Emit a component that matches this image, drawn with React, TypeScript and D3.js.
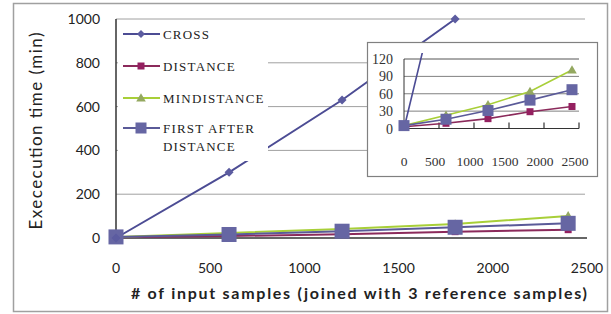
import { useRef, useEffect } from 'react';
import * as d3 from 'd3';

// data
const samples = [0, 600, 1200, 1800, 2400];
const cross = [0, 300, 630, 1000];
const distance = [3, 9, 17, 29, 38];
const minDistance = [5, 23, 41, 64, 101];
const firstAfter = [5, 16, 31, 49, 67];

const mainYTicks = [0, 200, 400, 600, 800, 1000];
const mainXTicks = [0, 500, 1000, 1500, 2000, 2500];
const insetYTicks = [0, 30, 60, 90, 120];
const insetXTicks = [0, 500, 1000, 1500, 2000, 2500];

const seriesNames = ['CROSS', 'DISTANCE', 'MINDISTANCE', 'FIRST AFTER DISTANCE'];

type Series = { name: string; values: number[]; line: string; fill: string; marker: string; size: number; mainSize: number };

const series: Series[] = [
  { name: seriesNames[1], values: distance, line: '#8b2a5b', fill: '#942060', marker: 'square', size: 7, mainSize: 7 },
  { name: seriesNames[2], values: minDistance, line: '#a8cf38', fill: '#94a860', marker: 'triangle', size: 8, mainSize: 8 },
  { name: seriesNames[3], values: firstAfter, line: '#5a5a98', fill: '#6666a3', marker: 'square', size: 11, mainSize: 15 },
  { name: seriesNames[0], values: cross, line: '#4c4c94', fill: '#5c5ca0', marker: 'diamond', size: 8, mainSize: 9 },
];

function drawMarker(g: any, kind: string, x: number, y: number, s: number, fill: string) {
  if (kind === 'square') {
    g.append('rect').attr('x', x - s / 2).attr('y', y - s / 2).attr('width', s).attr('height', s).attr('fill', fill);
  } else if (kind === 'triangle') {
    g.append('path').attr('d', `M${x},${y - s * 0.6}L${x + s * 0.6},${y + s * 0.45}L${x - s * 0.6},${y + s * 0.45}Z`).attr('fill', fill);
  } else {
    g.append('path').attr('d', `M${x},${y - s / 2}L${x + s / 2},${y}L${x},${y + s / 2}L${x - s / 2},${y}Z`).attr('fill', fill);
  }
}

export default function App() {
  const svgRef = useRef<SVGSVGElement>(null);

  useEffect(() => {
    document.body.style.margin = '0';
    const svg = d3.select(svgRef.current).html('');

    // outer frame
    svg.append('rect').attr('x', 13.5).attr('y', 3.5).attr('width', 594).attr('height', 308)
      .attr('fill', 'white').attr('stroke', '#a0a0a0').attr('stroke-width', 1.5);

    // main scales
    const x = d3.scaleLinear().domain([0, 2500]).range([116, 587]);
    const y = d3.scaleLinear().domain([0, 1000]).range([238, 19]);

    const grid = svg.append('g');
    mainYTicks.slice(1).forEach(t => {
      grid.append('line').attr('x1', 116).attr('x2', 585).attr('y1', y(t)).attr('y2', y(t))
        .attr('stroke', '#a0a0a0').attr('stroke-width', 1);
    });

    // axes
    svg.append('line').attr('x1', 116).attr('x2', 116).attr('y1', 19).attr('y2', 238).attr('stroke', '#333').attr('stroke-width', 1.5);
    svg.append('line').attr('x1', 116).attr('x2', 587).attr('y1', 238).attr('y2', 238).attr('stroke', '#333').attr('stroke-width', 1.5);

    const tickFont = 'Lato, sans-serif';
    mainYTicks.forEach(t => {
      svg.append('text').attr('x', 100).attr('y', y(t) + 5).attr('text-anchor', 'end')
        .attr('font-family', tickFont).attr('font-size', 14).attr('fill', '#222').text(t);
    });
    mainXTicks.forEach(t => {
      svg.append('text').attr('x', x(t)).attr('y', 273).attr('text-anchor', 'middle')
        .attr('font-family', tickFont).attr('font-size', 14).attr('fill', '#222').text(t);
    });

    // main series
    const line = d3.line<number>().x((d, i) => x(samples[i])).y(d => y(d));
    series.forEach(s => {
      svg.append('path').datum(s.values).attr('d', line).attr('fill', 'none')
        .attr('stroke', s.line).attr('stroke-width', 2);
    });
    series.forEach(s => {
      s.values.forEach((v, i) => drawMarker(svg, s.marker, x(samples[i]), y(v), s.mainSize, s.fill));
    });

    // legend
    const lg = svg.append('g');
    lg.append('rect').attr('x', 118).attr('y', 21).attr('width', 150).attr('height', 140).attr('fill', 'white');
    const legendOrder = [series[3], series[0], series[1], series[2]];
    const legendY = [34, 66, 98, 128];
    legendOrder.forEach((s, i) => {
      const ly = legendY[i];
      lg.append('line').attr('x1', 123).attr('x2', 160).attr('y1', ly).attr('y2', ly).attr('stroke', s.line).attr('stroke-width', 2);
      drawMarker(lg, s.marker, 141, ly, s.marker === 'square' && s.mainSize > 10 ? 11 : s.size, s.fill);
      const words = s.name === 'FIRST AFTER DISTANCE' ? ['FIRST AFTER', 'DISTANCE'] : [s.name];
      words.forEach((w, j) => {
        lg.append('text').attr('x', 163).attr('y', ly + 4.5 + j * 18)
          .attr('font-family', 'Liberation Serif, serif').attr('font-size', 13).attr('letter-spacing', 1.2)
          .attr('fill', '#222').text(w);
      });
    });

    // axis titles
    svg.append('text').attr('transform', 'translate(42,131) rotate(-90)').attr('text-anchor', 'middle')
      .attr('font-family', tickFont).attr('font-size', 17).attr('textLength', 197)
      .attr('fill', '#222').text('Exececution time (min)');
    svg.append('text').attr('x', 359).attr('y', 299).attr('text-anchor', 'middle')
      .attr('font-family', tickFont).attr('font-size', 16).attr('font-weight', 700)
      .attr('textLength', 456).attr('fill', '#222').text('# of input samples (joined with 3 reference samples)');

    // inset
    const ins = svg.append('g');
    ins.append('rect').attr('x', 367.5).attr('y', 42.5).attr('width', 230).attr('height', 134)
      .attr('fill', 'white').attr('stroke', '#808080').attr('stroke-width', 1.2);
    const xi = d3.scaleLinear().domain([0, 2500]).range([404, 579]);
    const yi = d3.scaleLinear().domain([0, 120]).range([128.5, 59]);
    insetYTicks.slice(1).forEach(t => {
      ins.append('line').attr('x1', 404).attr('x2', 579).attr('y1', yi(t)).attr('y2', yi(t))
        .attr('stroke', t === 120 ? '#555' : '#808080').attr('stroke-width', 1);
    });
    ins.append('line').attr('x1', 404).attr('x2', 404).attr('y1', yi(120)).attr('y2', yi(0)).attr('stroke', '#333').attr('stroke-width', 1);
    ins.append('line').attr('x1', 404).attr('x2', 579).attr('y1', yi(0)).attr('y2', yi(0)).attr('stroke', '#333').attr('stroke-width', 1.2);
    insetXTicks.slice(1).forEach(t => {
      ins.append('line').attr('x1', xi(t)).attr('x2', xi(t)).attr('y1', yi(0) - 6).attr('y2', yi(0)).attr('stroke', '#333').attr('stroke-width', 1.2);
    });
    const insFont = 'Liberation Serif, serif';
    insetYTicks.forEach(t => {
      ins.append('text').attr('x', 393).attr('y', yi(t) + 5).attr('text-anchor', 'end')
        .attr('font-family', insFont).attr('font-size', 14).attr('fill', '#333').text(t);
    });
    insetXTicks.forEach(t => {
      ins.append('text').attr('x', xi(t) - (t === 0 ? 0 : 4)).attr('y', 166).attr('text-anchor', 'middle')
        .attr('font-family', insFont).attr('font-size', 13.5).attr('fill', '#333').text(t);
    });

    svg.append('defs').append('clipPath').attr('id', 'insclip')
      .append('rect').attr('x', 400).attr('y', 53).attr('width', 185).attr('height', 85);
    const plot = ins.append('g').attr('clip-path', 'url(#insclip)');
    const lineI = d3.line<number>().x((d, i) => xi(samples[i])).y(d => yi(d));
    series.forEach(s => {
      plot.append('path').datum(s.values).attr('d', lineI).attr('fill', 'none')
        .attr('stroke', s.line).attr('stroke-width', 1.6);
    });
    series.slice(0, 3).forEach(s => {
      s.values.forEach((v, i) => drawMarker(ins, s.marker, xi(samples[i]), yi(v), s.size, s.fill));
    });
  }, []);

  return (
    <div>
      <svg ref={svgRef} width={611} height={314} style={{ display: 'block' }} />
    </div>
  );
}
